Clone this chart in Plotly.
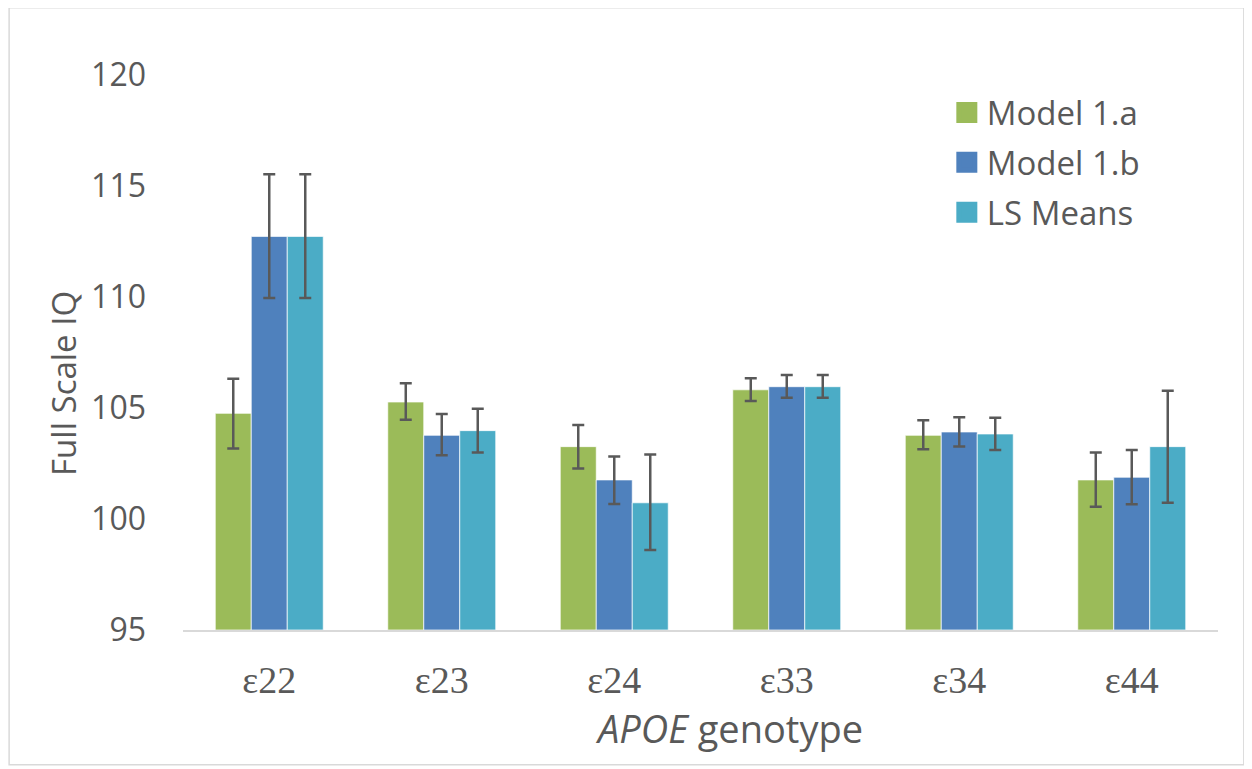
import plotly.graph_objects as go

categories = ["ε22", "ε23", "ε24", "ε33", "ε34", "ε44"]
series_names = ["Model 1.a", "Model 1.b", "LS Means"]
colors = ["#9BBB59", "#4F81BD", "#4BACC6"]

model_1a = [104.76, 105.27, 103.26, 105.82, 103.77, 101.76]
model_1a_hi = [106.32, 106.11, 104.23, 106.34, 104.45, 103.00]
model_1a_lo = [103.18, 104.47, 102.27, 105.32, 103.14, 100.55]

model_1b = [112.73, 103.77, 101.76, 105.96, 103.92, 101.88]
model_1b_hi = [115.53, 104.73, 102.82, 106.49, 104.58, 103.11]
model_1b_lo = [109.95, 102.87, 100.68, 105.46, 103.27, 100.66]

ls_means = [112.73, 103.98, 100.73, 105.96, 103.83, 103.26]
ls_means_hi = [115.53, 104.97, 102.90, 106.49, 104.56, 105.78]
ls_means_lo = [109.95, 102.99, 98.60, 105.46, 103.11, 100.73]

y_ticks = [95, 100, 105, 110, 115, 120]

values = [model_1a, model_1b, ls_means]
his = [model_1a_hi, model_1b_hi, ls_means_hi]
los = [model_1a_lo, model_1b_lo, ls_means_lo]

fig = go.Figure()
for name, col, v, hi, lo in zip(series_names, colors, values, his, los):
    fig.add_trace(go.Bar(
        x=categories, y=[val - 95 for val in v], base=95, name=name,
        marker=dict(color=col, line=dict(color="rgba(255,255,255,0.7)", width=1)),
        error_y=dict(type="data", symmetric=False,
                     array=[h - val for h, val in zip(hi, v)],
                     arrayminus=[val - l for val, l in zip(v, lo)],
                     color="#595959", thickness=2.5, width=6),
        showlegend=False,
    ))

for i, (name, col) in enumerate(zip(series_names, colors)):
    fig.add_trace(go.Scatter(
        x=[None], y=[None], mode="markers", name=name, legendgroup=f"g{i}",
        marker=dict(symbol="square", size=16, color=col, line=dict(color=col, width=5)),
    ))

fig.update_layout(
    width=1252, height=769,
    margin=dict(l=175, r=42, t=67, b=147),
    paper_bgcolor="white", plot_bgcolor="white",
    barmode="group", bargap=0.374, bargroupgap=0,
    font=dict(family="Open Sans", color="#595959"),
    showlegend=True,
    legend=dict(x=0.738, y=0.983, xanchor="left", yanchor="top",
                font=dict(family="Open Sans", size=33, color="#595959"),
                tracegroupgap=4, bgcolor="rgba(0,0,0,0)"),
    xaxis=dict(showline=True, linecolor="#D9D9D9", linewidth=1.5, ticks="",
               tickfont=dict(family="Liberation Serif", size=38, color="#595959"),
               ticklabelstandoff=16, showgrid=False, zeroline=False),
    yaxis=dict(range=[95, 120], tickvals=y_ticks, showgrid=False, zeroline=False,
               showline=False, ticks="",
               tickfont=dict(family="Open Sans", size=32, color="#595959"),
               ticklabelstandoff=36),
    annotations=[
        dict(text="<i>APOE</i> genotype", xref="paper", yref="paper", x=0.528, y=-0.177,
             xanchor="center", yanchor="middle", showarrow=False,
             font=dict(family="Open Sans", size=38, color="#595959")),
        dict(text="Full Scale IQ", xref="paper", yref="paper", x=-0.116, y=0.445,
             xanchor="center", yanchor="middle", showarrow=False, textangle=-90,
             font=dict(family="Open Sans", size=33, color="#595959")),
    ],
    shapes=[dict(type="rect", xref="paper", yref="paper", x0=-0.168, x1=1.025,
                 y0=-0.243, y1=1.121, line=dict(color="#D9D9D9", width=1.5),
                 fillcolor="rgba(0,0,0,0)", layer="below")],
)

fig.write_html("out.html")
